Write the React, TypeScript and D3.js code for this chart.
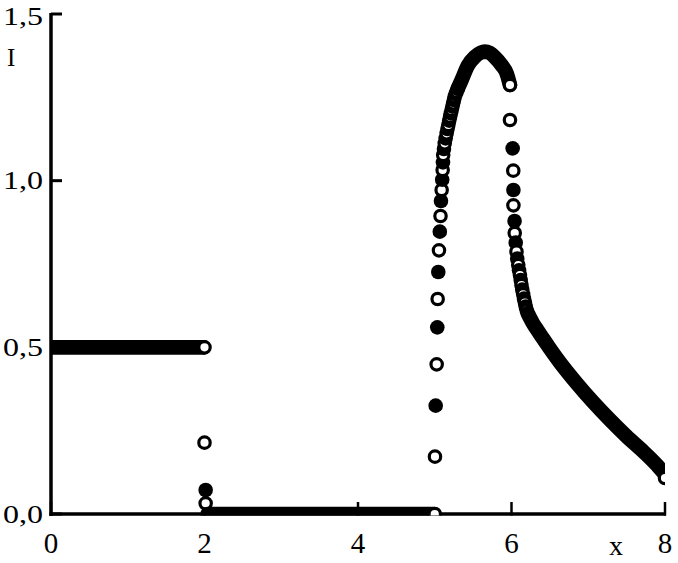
import * as d3 from "d3";
import { useEffect, useRef } from "react";

type Pt = [number, number];
type Dot = [number, number, "o" | "f"];

// dense runs of markers (they merge into a thick band)
const highBand: Pt[] = [[0, 0.5], [1.99, 0.5]];
const zeroBand: Pt[] = [[2.04, 0], [4.99, 0]];
const peakBand: Pt[] = [
	[5.3, 1.276], [5.35, 1.302], [5.43, 1.345], [5.52, 1.371], [5.6, 1.384], [5.65, 1.387],
	[5.72, 1.383], [5.78, 1.371], [5.87, 1.347], [5.94, 1.32], [5.98, 1.287],
];
const tailBand: Pt[] = [
	[6.21, 0.603], [6.24, 0.589], [6.28, 0.572], [6.33, 0.554], [6.4, 0.53], [6.48, 0.503], [6.63, 0.455],
	[6.85, 0.392], [7.07, 0.334], [7.28, 0.283], [7.5, 0.233], [7.72, 0.187], [7.89, 0.148], [7.98, 0.124],
];

// separate markers, o = open, f = filled
const dropAtTwo: Dot[] = [[2.0, 0.5, "o"], [2.0, 0.214, "o"], [2.015, 0.072, "f"], [2.015, 0.032, "o"]];
const riseAtFive: Dot[] = [
	[5.0, 0, "o"], [5.003, 0.172, "o"], [5.012, 0.325, "f"], [5.025, 0.449, "o"], [5.033, 0.56, "f"],
	[5.038, 0.645, "o"], [5.046, 0.726, "f"], [5.055, 0.791, "o"], [5.066, 0.847, "f"], [5.075, 0.894, "o"],
	[5.081, 0.939, "f"], [5.09, 0.972, "o"], [5.097, 1.003, "f"], [5.103, 1.032, "o"], [5.107, 1.055, "f"],
	[5.11, 1.077, "o"], [5.12, 1.095, "f"], [5.13, 1.112, "o"], [5.142, 1.127, "f"], [5.155, 1.142, "o"],
	[5.166, 1.155, "f"], [5.177, 1.167, "o"], [5.188, 1.18, "f"], [5.2, 1.192, "o"], [5.21, 1.202, "f"],
	[5.22, 1.212, "o"], [5.23, 1.222, "f"], [5.24, 1.232, "o"], [5.25, 1.242, "f"], [5.26, 1.252, "o"],
	[5.272, 1.26, "f"], [5.285, 1.267, "o"], [5.3, 1.276, "f"],
];
const fallAtSix: Dot[] = [
	[5.98, 1.287, "o"], [5.98, 1.182, "o"], [6.015, 1.097, "f"], [6.023, 1.03, "o"], [6.025, 0.972, "f"],
	[6.025, 0.926, "o"], [6.04, 0.879, "f"], [6.042, 0.843, "o"], [6.055, 0.814, "f"], [6.065, 0.787, "o"],
	[6.075, 0.766, "f"], [6.088, 0.747, "o"], [6.098, 0.731, "f"], [6.11, 0.717, "o"], [6.12, 0.702, "f"],
	[6.13, 0.687, "o"], [6.14, 0.673, "f"], [6.152, 0.659, "o"], [6.163, 0.646, "f"], [6.175, 0.634, "o"],
	[6.186, 0.622, "f"], [6.198, 0.611, "o"],
];
const tailEnd: Dot[] = [[8, 0.108, "o"]];

const xTicks = [0, 2, 4, 6, 8];
const yTicks = [0, 0.5, 1.0, 1.5];
const yTickLabels = ["0,0", "0,5", "1,0", "1,5"];

const W = 678;
const H = 563;
const R_OUT = 7.3;
const FONT = "Liberation Serif, Times New Roman, Times, serif";

export default function App() {
	const svgRef = useRef<SVGSVGElement>(null);

	useEffect(() => {
		document.body.style.margin = "0";
		if (!svgRef.current) return;
		const svg = d3.select(svgRef.current);
		svg.selectAll("*").remove();

		const x = d3.scaleLinear().domain([0, 8]).range([51, 665]);
		const y = d3.scaleLinear().domain([0, 1.5]).range([514, 14]);

		svg.append("rect").attr("width", W).attr("height", H).attr("fill", "#fff");

		svg
			.append("defs")
			.append("clipPath")
			.attr("id", "plot")
			.append("rect")
			.attr("x", x(0))
			.attr("y", 0)
			.attr("width", x(8) - x(0))
			.attr("height", y(0) + 1.5);

		// axes
		const axes = svg.append("g").attr("stroke", "#000").attr("fill", "none");
		axes.append("line").attr("x1", x(0)).attr("x2", x(0)).attr("y1", y(1.5) - 1).attr("y2", y(0) + 2).attr("stroke-width", 3.5);
		axes.append("line").attr("x1", x(0) - 1.5).attr("x2", x(8) + 1).attr("y1", y(0)).attr("y2", y(0)).attr("stroke-width", 3.3);
		axes
			.selectAll(".yt")
			.data(yTicks)
			.enter()
			.append("line")
			.attr("x1", x(0))
			.attr("x2", x(0) + 11)
			.attr("y1", (d) => y(d))
			.attr("y2", (d) => y(d))
			.attr("stroke-width", 3);
		axes
			.selectAll(".xt")
			.data(xTicks)
			.enter()
			.append("line")
			.attr("x1", (d) => x(d))
			.attr("x2", (d) => x(d))
			.attr("y1", y(0) + 1.5)
			.attr("y2", y(0) - 12)
			.attr("stroke-width", 2.5);

		// data, drawn in the order it was traced
		const plot = svg.append("g").attr("clip-path", "url(#plot)");
		const line = d3
			.line<Pt>()
			.x((d) => x(d[0]))
			.y((d) => y(d[1]))
			.curve(d3.curveMonotoneX);

		const band = (pts: Pt[]) =>
			plot
				.append("path")
				.attr("d", line(pts))
				.attr("fill", "none")
				.attr("stroke", "#000")
				.attr("stroke-width", R_OUT * 2)
				.attr("stroke-linecap", "round")
				.attr("stroke-linejoin", "round");

		const dots = (pts: Dot[]) =>
			pts.forEach((d) => {
				const c = plot.append("circle").attr("cx", x(d[0])).attr("cy", y(d[1]));
				if (d[2] === "o") c.attr("r", R_OUT - 1.6).attr("fill", "#fff").attr("stroke", "#000").attr("stroke-width", 3.2);
				else c.attr("r", R_OUT).attr("fill", "#000");
			});

		band(highBand);
		dots(dropAtTwo);
		band(zeroBand);
		dots(riseAtFive);
		band(peakBand);
		dots(fallAtSix);
		band(tailBand);
		dots(tailEnd);

		// labels
		const labels = svg.append("g").attr("font-family", FONT).attr("fill", "#000");
		labels
			.selectAll(".yl")
			.data(yTicks)
			.enter()
			.append("text")
			.attr("x", 3)
			.attr("y", (d) => (d === 1.5 ? 25 : y(d) + 8.5))
			.attr("font-size", 25)
			.attr("textLength", 40)
			.attr("lengthAdjust", "spacingAndGlyphs")
			.text((_, i) => yTickLabels[i]);
		labels
			.selectAll(".xl")
			.data(xTicks)
			.enter()
			.append("text")
			.attr("x", (d) => x(d))
			.attr("y", 553)
			.attr("text-anchor", "middle")
			.attr("font-size", 29)
			.text((d) => String(d));
		labels.append("text").attr("x", 7).attr("y", 66).attr("font-size", 25).text("I");
		labels.append("text").attr("x", 616).attr("y", 555).attr("text-anchor", "middle").attr("font-size", 28).text("x");
	}, []);

	return <svg ref={svgRef} width={W} height={H} style={{ display: "block" }} />;
}
